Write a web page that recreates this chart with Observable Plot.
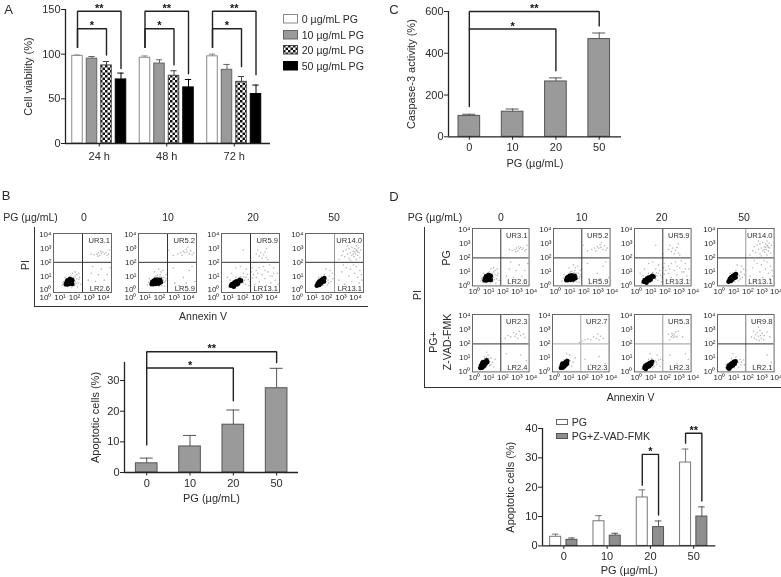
<!DOCTYPE html>
<html><head><meta charset="utf-8">
<script src="https://cdn.jsdelivr.net/npm/d3@7"></script>
<script src="https://cdn.jsdelivr.net/npm/@observablehq/plot@0.6"></script>
<style>
html,body{margin:0;padding:0;background:#fff}
#fig{position:relative;width:781px;height:577px;overflow:hidden;font-family:"Liberation Sans",Arial,sans-serif;color:#2a2a2a;filter:blur(.45px)}
#fig svg.plot{position:absolute;overflow:visible}
#fig svg.flow g[aria-label="dot"]{filter:blur(.55px)}
.t{position:absolute;white-space:nowrap;line-height:1;transform:translate(-50%,-50%)}
.r{transform:translate(-50%,-50%) rotate(-90deg)}
.l{position:absolute;background:#333}
.sw{position:absolute;box-sizing:border-box}
</style></head><body>
<svg width="0" height="0" style="position:absolute"><defs>
<pattern id="checker" width="5" height="5" patternUnits="userSpaceOnUse"><rect width="5" height="5" fill="#fff"/><rect width="2.5" height="2.5" fill="#111"/><rect x="2.5" y="2.5" width="2.5" height="2.5" fill="#111"/></pattern>
</defs></svg>
<div id="fig"></div>
<script>
// ---------- Panel A
const hours = ["24 h","48 h","72 h"];
const doseLegend = ["0 µg/mL PG","10 µg/mL PG","20 µg/mL PG","50 µg/mL PG"];
const viability = [[98.1,95,87.4,71.7],[96,89.5,75.8,62.8],[97.6,82.5,69,55.4]];
const viabilityErr = [[99,97.4,91.8,78.8],[98,93.7,81.4,71.7],[100,88.5,75,65.4]];
const bracketsA = [
 {g:0,to:3,top:148,lo1:107.6,lo2:84,s:"**"},{g:0,to:2,top:128.5,lo1:107.6,lo2:99,s:"*"},
 {g:1,to:3,top:148,lo1:107.6,lo2:78,s:"**"},{g:1,to:2,top:128.5,lo1:107.6,lo2:88,s:"*"},
 {g:2,to:3,top:148,lo1:107.6,lo2:77,s:"**"},{g:2,to:2,top:128.5,lo1:107.6,lo2:86,s:"*"}];
// ---------- Panel C
const doses = ["0","10","20","50"];
const caspase = [100,120,265,468];
const caspaseErr = [108,133,282,497];
const bracketsC = [{g:0,gTo:3,top:600,lo1:145,lo2:531,s:"**"},{g:0,gTo:2,top:516,lo1:516,lo2:316,s:"*"}];
// ---------- Panel B bars
const apoptoticB = [3,8.5,15.6,27.5];
const apoptoticBErr = [4.7,12.1,20.4,34];
const bracketsB = [{g:0,gTo:3,top:39.4,lo1:9,lo2:35.9,s:"**"},{g:0,gTo:2,top:34.1,lo1:34.1,lo2:23.4,s:"*"}];
// ---------- Panel D bars
const seriesD = ["PG","PG+Z-VAD-FMK"];
const apoptoticD = [[3.1,2.05],[8.4,3.5],[16.5,6.4],[28.4,10]];
const apoptoticDErr = [[4,2.7],[10.3,4.3],[19.1,8.5],[33,13.3]];
const bracketsD = [{g:2,from:0,to:1,top:31.2,lo1:20.7,lo2:10.5,s:"*"},{g:3,from:0,to:1,top:38.4,lo1:35,lo2:15.3,s:"**"}];
// ---------- Flow plots
const urB = ["UR3.1","UR5.2","UR5.9","UR14.0"];
const lrB = ["LR2.6","LR5.9","LR13.1","LR13.1"];
const urD = ["UR2.3","UR2.7","UR5.3","UR9.8"];
const lrD = ["LR2.4","LR2.3","LR2.3","LR2.1"];
const coreB0 = [[.85,.4],[.9,.55],[.95,.38],[1,.5],[1.05,.65],[1.1,.42],[1.15,.6],[1.2,.75],[1.25,.5],[1.3,.7],[.95,.68],[1.12,.78],[1.3,.42]];
const scatB0 = [[.6,.35],[.7,.6],[.75,.25],[1.4,.9],[1.5,.6],[1.5,1],[1.35,.4],[1.6,.8],[1.2,1],[1.1,.95],[.9,.8],[1.7,.5],[1.45,.3],[1.8,.9],[1.3,1.2],[1.5,1.3],[1.65,.2],[1.4,.7],[1.55,.45],[1.05,.85],[.65,.5],[1.9,.4],[1.6,1.1],[1.75,.75],[.8,.9],[1,.25],[1.25,.2],[1.75,1.2],
 [2.8,2.55],[3,2.6],[3.1,2.7],[3.2,2.5],[3.3,2.65],[3.4,2.75],[3.5,2.6],[3.6,2.7],[3.7,2.5],[3.05,2.45],[3.25,2.8],[2.6,2.6],[3.8,2.6],[3.85,2.9],[2.6,1.2],[2.9,.6],[3.3,1.5],[3.7,1.1],[2.4,.7],[3.5,.7],[3.9,1.6],[2.7,1.7],[3.1,1.1]];
const coreB10 = [[.9,.42],[.95,.58],[1,.4],[1.05,.65],[1.1,.5],[1.15,.72],[1.25,.55],[1.3,.75],[1.4,.6],[1.5,.72],[1.55,.55],[1.2,.42],[1.4,.45]];
const scatB10 = [[.6,.35],[.7,.55],[.75,.8],[1.6,.9],[1.7,.7],[1.8,.55],[1.9,.8],[2,.65],[1.5,1.1],[1.3,1.05],[1.1,.9],[1.6,.3],[1.4,.25],[1.9,1.1],[1.7,1.4],[1.4,1.5],[1.1,1.3],[2,1.2],[1.8,.25],[1.75,.9],[1.85,.65],[1.45,.95],[1.2,1],[.85,.25],[1.55,1.3],
 [2.7,2.6],[2.9,2.7],[3,2.5],[3.1,2.8],[3.2,2.7],[3.3,2.95],[3.35,2.75],[3.4,3.1],[3.5,2.6],[3.6,2.85],[3.7,2.55],[2.4,2.5],[2.1,2.9],[3.8,2.7],[2.5,.5],[2.8,.3],[3.1,.9],[3.5,1.4],[3.9,.6],[2.4,1.6],[3.3,.5],[3.7,1.7]];
const coreB20 = [[.65,.3],[.72,.42],[.8,.3],[.88,.52],[.95,.4],[1,.6],[1.1,.62],[1.15,.45],[1.25,.72],[1.35,.65],[.85,.22],[1.05,.38]];
const scatB20 = [[.5,.2],[1.45,.8],[1.6,.7],[1.7,.9],[1.85,.75],[2,.9],[2.15,.85],[1.5,.5],[1.3,.95],[1,.9],[1.8,1.1],[1.5,1.2],[2.2,1.1],[2.4,.9],[.7,1.2],[1,1.6],[1.3,1.7],[1.7,1.5],[2.1,1.6],[2.4,1.4],[2.6,.6],[2.8,1.1],[3,.8],[3.2,1.3],[3.4,.5],[3.5,1],[3.6,1.6],[3.7,.7],[3.85,1.2],[3.9,.4],[2.9,1.7],[3.3,1.8],[2.6,1.6],[3.1,.3],[1.9,.3],[2.3,.4],[.4,.9],[1.55,.95],[1.95,.6],[1.65,.4],[2.05,1.3],[.6,.7],[2.5,1.2],[3,1.4],[3.35,1],[3.6,1.2],
 [2.4,2.6],[2.5,2.9],[2.6,2.45],[2.7,2.7],[2.8,2.3],[2.9,2.55],[3,2.75],[3.1,2.35],[3.2,2.2],[1.5,2.9],[2,2.3],[3.4,3.5],[3.1,3]];
const coreB50 = [[.82,.35],[.88,.5],[.95,.35],[1,.62],[1.05,.45],[1.1,.72],[1.15,.55],[1.22,.78],[1.28,.6],[.78,.3],[1.3,.85],[.95,.6]];
const scatB50 = [[.65,.3],[.7,.5],[1.35,.6],[1.45,.8],[1.55,.7],[1.65,1],[1.75,.6],[1.1,.95],[1.3,1.1],[1.5,.35],[1.9,.8],[2,1.1],[1.7,1.4],[1.4,1.5],[.9,.9],[1.2,.3],[1.85,1.2],[1.6,.5],
 [2.3,2.2],[2.5,2.5],[2.6,2.8],[2.7,2.4],[2.8,2.9],[2.9,2.6],[3,2.3],[3,3],[3.1,2.7],[3.2,2.5],[3.2,3.1],[3.3,2.8],[3.35,2.4],[3.4,3],[3.45,2.6],[3.5,2.2],[3.5,3.2],[3.55,2.85],[3.6,2.5],[3.65,3.05],[3.7,2.7],[3.75,2.35],[3.8,2.9],[2.9,3.2],[3.1,2.15],[3.4,2.75],[3.6,2.75],[3.3,2.6],[3.5,2.9],
 [2.3,.7],[2.5,1.3],[2.7,.4],[2.8,1.6],[3,1],[3.1,1.5],[3.2,.6],[3.4,1.2],[3.5,1.7],[3.6,.9],[3.7,.5],[3.75,1.4],[3.85,1.1],[3.9,.7],[2.6,1.8],[3.3,1.8]];
const coreD0 = [[.55,.28],[.6,.42],[.68,.3],[.7,.5],[.78,.38],[.8,.62],[.85,.48],[.88,.72],[.95,.62],[1,.82],[1.05,.7],[.65,.55],[.72,.68]];
const scatD0 = [[.4,.3],[.45,.5],[.6,.7],[.7,.85],[1.1,.6],[1.15,.95],[1.2,.75],[1.3,.5],[.95,.35],[1.1,1.2],[1.3,1],[1,1.4],[.85,1.1],[1.4,.7],[1.5,.35],[1.6,.9],[.85,.95],[1,1.05],[1.2,.45],
 [2.3,2.4],[2.5,2.6],[2.7,2.5],[2.9,2.8],[3,2.55],[3.1,2.7],[3.2,2.4],[3.3,2.9],[3.4,2.6],[3.6,2.7],[3.7,2.45],[2.9,.4],[3.4,1.2],[2.4,1.3],[3.8,.8]];
const coreD10 = [[.6,.28],[.65,.42],[.72,.3],[.75,.5],[.82,.38],[.85,.62],[.92,.48],[.95,.72],[1.02,.58],[1.05,.78],[.7,.6]];
const scatD10 = [[.45,.3],[.5,.5],[.6,.65],[.8,.85],[1,.95],[1.15,.5],[1.25,.8],[1.35,.4],[1.45,.7],[1.2,1.2],[1,1.3],[1.6,1],[1.15,.7],[.9,.3],
 [1.9,2.1],[2.1,2.2],[2.3,2.3],[2.5,2.35],[2.7,2.3],[2.9,2.5],[3.1,2.4],[3.2,2.7],[3.3,2.3],[3.4,2.55],[3.6,2.4],[2.7,.5],[3.3,1.1],[2.3,.9],[3.7,.6]];
const coreD20 = [[.7,.28],[.75,.42],[.82,.28],[.85,.5],[.92,.36],[.98,.58],[1.05,.4],[1.1,.65],[1.18,.55],[1.25,.72],[.8,.2]];
const scatD20 = [[.5,.2],[.55,.4],[1.35,.65],[1.45,.8],[1.55,.7],[1.7,.85],[1.85,.9],[2,.8],[1.2,.95],[1,.9],[1.4,.4],[1.6,1.2],[1.8,.4],[1.1,1.3],[1.6,.55],[1.3,.3],
 [2.6,2.5],[2.65,2.75],[2.7,2.6],[2.75,2.45],[2.8,2.7],[2.85,2.55],[2.9,2.85],[2.5,2.3],[3,2.5],[3.1,2.9],[2.4,2.7],[3.4,2.5],[3,.6],[3.6,1.3],[2.5,1.2],[3.8,.9]];
const coreD50 = [[.75,.3],[.8,.45],[.88,.32],[.92,.55],[1,.4],[1.02,.62],[1.1,.48],[1.15,.72],[1.22,.58],[1.28,.75],[.82,.22]];
const scatD50 = [[.55,.3],[.6,.5],[1.3,.5],[1.4,.8],[1.5,.65],[1.6,.9],[1.7,.7],[1.85,.85],[1.3,1.05],[1,.95],[1.5,.35],[1.1,1.3],[1.9,.5],[1.65,.5],[1.2,.3],
 [2.4,2.5],[2.55,2.9],[2.6,2.4],[2.7,2.65],[2.75,2.3],[2.8,2.8],[2.9,2.55],[2.95,2.25],[3,2.95],[3.05,2.6],[3.1,2.4],[3.15,2.75],[3.25,2.3],[3.3,2.6],[3.5,2.85],[2.9,3.2],[3.7,2.5],[2.9,.5],[3.5,1.2],[3.8,.7]];

const fig = document.getElementById("fig");
const FONT = '"Liberation Sans",Arial,sans-serif';
const INK = "#2a2a2a";

function txt(s,x,y,size=10.5,rot=false){
  const e=document.createElement("div");e.className="t"+(rot?" r":"");e.textContent=s;
  e.style.left=x+"px";e.style.top=y+"px";e.style.fontSize=size+"px";fig.appendChild(e);
}
function seg(x,y,w,h){const e=document.createElement("div");e.className="l";
  Object.assign(e.style,{left:x+"px",top:y+"px",width:w+"px",height:h+"px"});fig.appendChild(e);}
function place(svg,left,top,cls){svg.classList.add("plot");if(cls)svg.classList.add(cls);svg.style.left=left+"px";svg.style.top=top+"px";fig.appendChild(svg);}

function barChart(c){
  const {rows,brackets,x0,x1,yTop,yBase,ymax,dom,bw,ticks,labels,yLabel,yOff,xLabel,xOff,tickPad=3,tickFont=11}=c;
  const mL=60,mR=20,mT=14,mB=40;
  const cx=d=>d.cx;
  const br=brackets.flatMap((b,i)=>[
    {i,x:b.xa,y:b.lo1},{i,x:b.xa,y:b.top},{i,x:b.xb,y:b.top},{i,x:b.xb,y:b.lo2}]);
  const svg=Plot.plot({
    width:x1-x0+mL+mR,height:yBase-yTop+mT+mB,
    marginLeft:mL,marginRight:mR,marginTop:mT,marginBottom:mB,
    style:{background:"transparent",fontFamily:FONT,fontSize:tickFont+"px",color:INK},
    x:{domain:dom},y:{domain:[0,ymax]},
    marks:[
      Plot.rectY(rows,{x1:d=>d.cx-bw/2,x2:d=>d.cx+bw/2,y:"v",fill:"fill",stroke:"stroke",strokeWidth:1}),
      Plot.ruleX(rows,{x:cx,y1:"v",y2:"e",stroke:"stroke",strokeWidth:1}),
      Plot.ruleY(rows,{y:"e",x1:d=>d.cx-bw*.3,x2:d=>d.cx+bw*.3,stroke:"stroke",strokeWidth:1}),
      Plot.line(br,{x:"x",y:"y",z:"i",stroke:"#222",strokeWidth:1.4,strokeLinejoin:"miter"}),
      Plot.text(brackets,{x:d=>(d.xa+d.xb)/2,y:"top",text:"s",dy:-3,lineAnchor:"middle",fontSize:11,fontWeight:"bold",fill:"#111"}),
      Plot.ruleY([0],{stroke:"#222",strokeWidth:1.3}),
      Plot.ruleX([dom[0]],{stroke:"#222",strokeWidth:1.3}),
      Plot.axisY({ticks:c.yTicks,tickSize:4,tickPadding:1,stroke:"#222",label:yLabel,labelAnchor:"center",labelArrow:"none",labelOffset:yOff}),
      Plot.axisX({ticks,tickFormat:i=>labels[i],tickSize:3.5,tickPadding:tickPad,stroke:"#222",label:xLabel,labelAnchor:"center",labelArrow:"none",labelOffset:xOff})
    ]});
  place(svg,x0-mL,yTop-mT);
}
function bracketsSimple(list){return list.map(b=>({...b,xa:b.g,xb:b.gTo}));}

// Panel A
const aFill=["#fff","#9a9a9a","url(#checker)","#000"], aStroke=["#8a8a8a","#666","#444","#000"];
const aStep=.2148;
const aRows=viability.flatMap((gr,g)=>gr.map((v,s)=>({cx:g+(s-1.5)*aStep,v,e:viabilityErr[g][s],fill:aFill[s],stroke:aStroke[s]})));
barChart({rows:aRows,brackets:bracketsA.map(b=>({...b,xa:b.g-1.5*aStep,xb:b.g+(b.to-1.5)*aStep})),
  x0:65,x1:270,yTop:9,yBase:143,ymax:150,dom:[-.5,2.537],bw:.1556,yTicks:[0,50,100,150],ticks:[0,1,2],labels:hours,yLabel:"Cell viability (%)",yOff:41,xLabel:null,xOff:0,tickPad:5});
doseLegend.forEach((s,i)=>{
  const e=document.createElement("div");e.className="sw";
  const y=[14,30,45.3,61][i];
  e.innerHTML=`<svg width="15" height="9.5" style="display:block"><rect x=".5" y=".5" width="14" height="8.5" fill="${aFill[i]}" stroke="${aStroke[i]}"/></svg>`;
  Object.assign(e.style,{left:"282.7px",top:y+"px"});fig.appendChild(e);
  const t=document.createElement("div");t.className="t";t.textContent=s;t.style.fontSize="10.6px";t.style.transform="translate(0,-50%)";
  t.style.left="301.7px";t.style.top=(y+4.7)+"px";fig.appendChild(t);
});
// Panel C
barChart({rows:caspase.map((v,g)=>({cx:g,v,e:caspaseErr[g],fill:"#9a9a9a",stroke:"#555"})),brackets:bracketsSimple(bracketsC),
  x0:447.7,x1:620.7,yTop:11,yBase:136.3,ymax:600,dom:[-.481,3.515],bw:.5,yTicks:[0,200,400,600],ticks:[0,1,2,3],labels:doses,yLabel:"Caspase-3 activity (%)",yOff:41,xLabel:"PG (µg/mL)",xOff:30});
// Panel B bars
barChart({rows:apoptoticB.map((v,g)=>({cx:g,v,e:apoptoticBErr[g],fill:"#9a9a9a",stroke:"#555"})),brackets:bracketsSimple(bracketsB),
  x0:124.3,x1:298.3,yTop:361.7,yBase:471.7,ymax:35.9,dom:[-.513,3.505],bw:.5,yTicks:[0,10,20,30],ticks:[0,1,2,3],labels:doses,yLabel:"Apoptotic cells (%)",yOff:33,xLabel:"PG (µg/mL)",xOff:29});
// Panel D bars
const dStep=.376;
const dRows=apoptoticD.flatMap((gr,g)=>gr.map((v,s)=>({cx:g+(s-.5)*dStep,v,e:apoptoticDErr[g][s],fill:s?"#8f8f8f":"#fff",stroke:s?"#555":"#777"})));
barChart({rows:dRows,brackets:bracketsD.map(b=>({...b,xa:b.g+(b.from-.5)*dStep,xb:b.g+(b.to-.5)*dStep})),
  x0:541.7,x1:715,yTop:428.3,yBase:545.7,ymax:40,dom:[-.492,3.51],bw:.254,yTicks:[0,10,20,30,40],ticks:[0,1,2,3],labels:doses,yLabel:"Apoptotic cells (%)",yOff:36,xLabel:"PG (µg/mL)",xOff:28,tickPad:2.5});
seriesD.forEach((s,i)=>{
  const e=document.createElement("div");e.className="sw";const y=[419.3,433][i];
  e.innerHTML=`<svg width="12" height="6" style="display:block"><rect x=".5" y=".5" width="11" height="5" fill="${i?"#8f8f8f":"#fff"}" stroke="${i?"#555":"#666"}"/></svg>`;
  Object.assign(e.style,{left:"555.7px",top:y+"px"});fig.appendChild(e);
  const t=document.createElement("div");t.className="t";t.textContent=s;t.style.fontSize="10.6px";t.style.transform="translate(0,-50%)";
  t.style.left="571.7px";t.style.top=(y+3)+"px";fig.appendChild(t);
});

// Flow plots
const SUP=["⁰","¹","²","³","⁴"];
function flow(core,scat,ur,lr,fx,fy,w,h,yDom,xdx,vLine="#333",hLine="#333"){
  const mL=24,mR=12,mT=4,mB=14;
  const pts=a=>a.map(([x,y])=>({x,y}));
  const svg=Plot.plot({width:w+mL+mR,height:h+mT+mB,marginLeft:mL,marginRight:mR,marginTop:mT,marginBottom:mB,
    style:{background:"transparent",fontFamily:FONT,fontSize:"8px",color:INK},
    x:{domain:[0,4]},y:{domain:yDom},
    marks:[
      Plot.dot(pts(scat),{x:"x",y:"y",r:.8,fill:"#555",fillOpacity:.42,stroke:null}),
      Plot.dot(pts(core),{x:"x",y:"y",r:2.3,fill:"#000",stroke:null}),
      Plot.ruleX([2],{stroke:vLine,strokeWidth:1}),
      Plot.ruleY([2],{stroke:hLine,strokeWidth:1}),
      Plot.frame({stroke:"#666",strokeWidth:1}),
      Plot.text([ur],{frameAnchor:"top-right",dx:-1.5,dy:4,text:d=>d,fontSize:7.6,fill:"#333"}),
      Plot.text([lr],{frameAnchor:"bottom-right",dx:-1.5,dy:-1.5,text:d=>d,fontSize:7.6,fill:"#333"}),
      Plot.axisY({ticks:[0,1,2,3,4],tickFormat:d=>"10"+SUP[d],tickSize:0,tickPadding:2,label:null}),
      Plot.axisX({ticks:[0,1,2,3,4],tickFormat:d=>"10"+SUP[d],tickSize:0,tickPadding:2,label:null,dx:xdx})
    ]});
  place(svg,fx-mL,fy-mT,"flow");
}
const coresT=[coreB0,coreB10,coreB20,coreB50],scatsT=[scatB0,scatB10,scatB20,scatB50];
const coresD=[coreD0,coreD10,coreD20,coreD50],scatsD=[scatD0,scatD10,scatD20,scatD50];
const vTop=["#333","#333","#333","#999"];
const vLow=["#333","#aaa","#999","#777"],hLow=["#333","#aaa","#999","#333"];
[53.3,137.7,221,304.5].forEach((x,i)=>flow(coresT[i],scatsT[i],urB[i],lrB[i],x,232.7,58,59,[-.2,4.1],-8,vTop[i]));
[471.7,552.7,634,716.7].forEach((x,i)=>flow(coresT[i],scatsT[i],urB[i],lrB[i],x,228.3,56.6,57.4,[0,4.1],2,vTop[i]));
[471.7,551.7,634,716.7].forEach((x,i)=>flow(coresD[i],scatsD[i],urD[i],lrD[i],x,314.3,56.6,57.4,[0,4.1],2,vLow[i],hLow[i]));

txt("A",8.5,9,13);txt("B",6,195,13);txt("C",394,9,13);txt("D",394,196,13);
txt("PG (µg/mL)",30.5,217,10.5);
doses.forEach((d,i)=>txt(d,[84,168,253,334][i],217,10.5));
seg(34,227,1.4,80);seg(34,306,334,1.4);
txt("PI",25,265,10.5,true);txt("Annexin V",203,316,10.5);
txt("PG (µg/mL)",435,216.7,10.5);
doses.forEach((d,i)=>txt(d,[501,581.7,661.7,744][i],216.7,10.5));
seg(424,226.7,1.4,161);seg(424,387,357,1.4);
txt("PI",416.7,295,10.5,true);txt("PG",445.7,258,10.5,true);
txt("PG+",432.7,341.7,10.5,true);txt("Z-VAD-FMK",446.7,341.7,10.5,true);
txt("Annexin V",630.7,397,10.5);
</script></body></html>
